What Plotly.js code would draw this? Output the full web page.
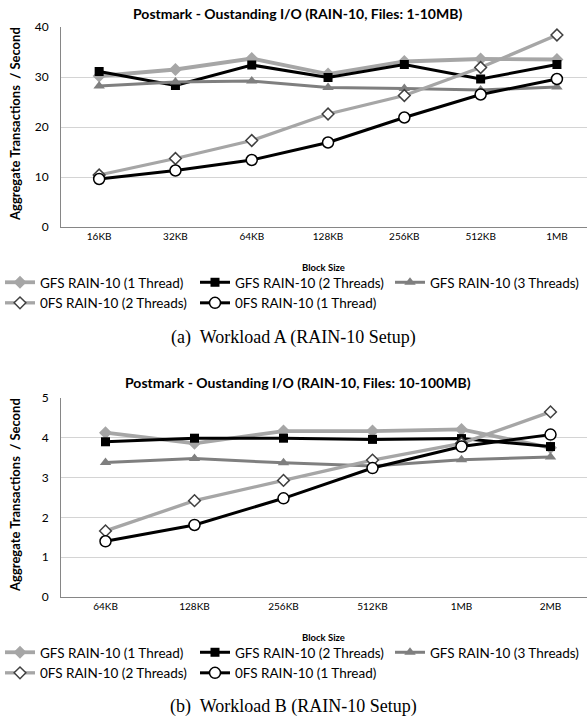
<!DOCTYPE html>
<html><head><meta charset="utf-8">
<script src="https://cdn.plot.ly/plotly-3.0.1.min.js"></script>
<style>html,body{margin:0;padding:0;background:#fff;}#chart{width:587px;height:723px;}</style>
</head><body><div id="chart"></div>
<script>
// ---- Data ----
var catsA = ['16KB','32KB','64KB','128KB','256KB','512KB','1MB'];
var gfs1A = [30.2, 31.5, 33.7, 30.6, 33.1, 33.6, 33.5];
var gfs2A = [31.1, 28.3, 32.4, 29.9, 32.5, 29.6, 32.5];
var gfs3A = [28.2, 29.0, 29.2, 27.9, 27.7, 27.4, 28.0];
var ofs2A = [10.4, 13.7, 17.3, 22.6, 26.3, 31.9, 38.4];
var ofs1A = [9.6, 11.3, 13.4, 16.9, 21.9, 26.5, 29.6];

var catsB = ['64KB','128KB','256KB','512KB','1MB','2MB'];
var gfs1B = [4.13, 3.86, 4.17, 4.17, 4.21, 3.75];
var gfs2B = [3.90, 3.99, 3.99, 3.96, 3.98, 3.78];
var gfs3B = [3.38, 3.48, 3.37, 3.29, 3.45, 3.52];
var ofs2B = [1.66, 2.42, 2.93, 3.44, 3.86, 4.65];
var ofs1B = [1.40, 1.81, 2.48, 3.24, 3.78, 4.08];

var names = ['GFS RAIN-10 (1 Thread)','GFS RAIN-10 (2 Threads)','GFS RAIN-10 (3 Threads)','0FS RAIN-10 (2 Threads)','0FS RAIN-10 (1 Thread)'];

var LG = '#a6a6a6', MG = '#7f7f7f', BK = '#000000';
var styles = [
  {line:{color:LG,width:3.8}, marker:{symbol:'diamond',size:10,color:LG}},
  {line:{color:BK,width:3}, marker:{symbol:'square',size:9,color:BK}},
  {line:{color:MG,width:3}, marker:{symbol:'triangle-up',size:10,color:MG}},
  {line:{color:LG,width:3.3}, marker:{symbol:'diamond',size:9,color:'#fff',line:{color:'#404040',width:1.5}}},
  {line:{color:BK,width:3}, marker:{symbol:'circle',size:11,color:'#fff',line:{color:BK,width:1.5}}}
];

function mk(x, ys, xa, ya, lg){
  return ys.map(function(y,i){
    return {x:x, y:y, name:names[i], type:'scatter', mode:'lines+markers',
      xaxis:xa, yaxis:ya, legend:lg, line:styles[i].line, marker:styles[i].marker, cliponaxis:true};
  });
}
var data = mk(catsA,[gfs1A,gfs2A,gfs3A,ofs2A,ofs1A],'x','y','legend')
  .concat(mk(catsB,[gfs1B,gfs2B,gfs3B,ofs2B,ofs1B],'x2','y2','legend2'));

var H = 723, W = 587;
function py(p){return (H-p)/H;}
var CAL = 'Lato, "Open Sans", sans-serif';
var SER = '"Liberation Serif", "DejaVu Serif", serif';
var axX = {type:'category', showgrid:false, showline:true, linecolor:'#868686', linewidth:1,
  ticks:'', tickfont:{family:CAL,size:10,color:'#000'}, zeroline:false, domain:[61/W,1]};
var axY = {showgrid:true, gridcolor:'#d4d4d4', gridwidth:1, showline:true, linecolor:'#868686', linewidth:1,
  ticks:'', tickfont:{family:CAL,size:12,color:'#000'}, zeroline:false, ticklabelstandoff:9};

function ann(text, x, y, size, fam, angle){
  return {text:text, xref:'paper', yref:'paper', x:x/W, y:py(y), xanchor:'center', yanchor:'middle',
    showarrow:false, textangle:angle||0, font:{family:fam||CAL, size:size, color:'#000'}};
}

var legBase = {orientation:'h', x:0, xanchor:'left', yanchor:'top', entrywidth:150, entrywidthmode:'pixels',
    itemwidth:30, font:{family:CAL,size:13.5,color:'#000'}, bgcolor:'rgba(0,0,0,0)', tracegroupgap:0};

var layout = {
  width:W, height:H, margin:{l:0,r:0,t:0,b:0}, paper_bgcolor:'#fff', plot_bgcolor:'#fff',
  showlegend:true,
  xaxis: Object.assign({}, axX, {range:[-0.5, 6.394], anchor:'y'}),
  yaxis: Object.assign({}, axY, {range:[0,40], dtick:10, domain:[py(227), py(27)], anchor:'x'}),
  xaxis2: Object.assign({}, axX, {range:[-0.5, 5.41], anchor:'y2'}),
  yaxis2: Object.assign({}, axY, {range:[0,5], dtick:1, domain:[py(597), py(398)], anchor:'x2'}),
  legend: Object.assign({}, legBase, {y:py(267)}),
  legend2: Object.assign({}, legBase, {y:py(637)}),
  annotations:[
    ann('<b>Postmark - Oustanding I/O (RAIN-10, Files: 1-10MB)</b>', 298, 13, 14),
    ann('<b>Postmark - Oustanding I/O (RAIN-10, Files: 10-100MB)</b>', 298, 382, 14),
    ann('<b>Aggregate Transactions  / Second</b>', 15, 124, 13, CAL, -90),
    ann('<b>Aggregate Transactions  / Second</b>', 15, 495, 13, CAL, -90),
    ann('<b>Block Size</b>', 323, 267, 9.5),
    ann('<b>Block Size</b>', 323, 637, 9.5),
    ann('(a)  Workload A (RAIN-10 Setup)', 293, 337, 18, SER),
    ann('(b)  Workload B (RAIN-10 Setup)', 293, 706, 18, SER)
  ]
};
Plotly.newPlot('chart', data, layout, {displayModeBar:false, staticPlot:true});
</script></body></html>
